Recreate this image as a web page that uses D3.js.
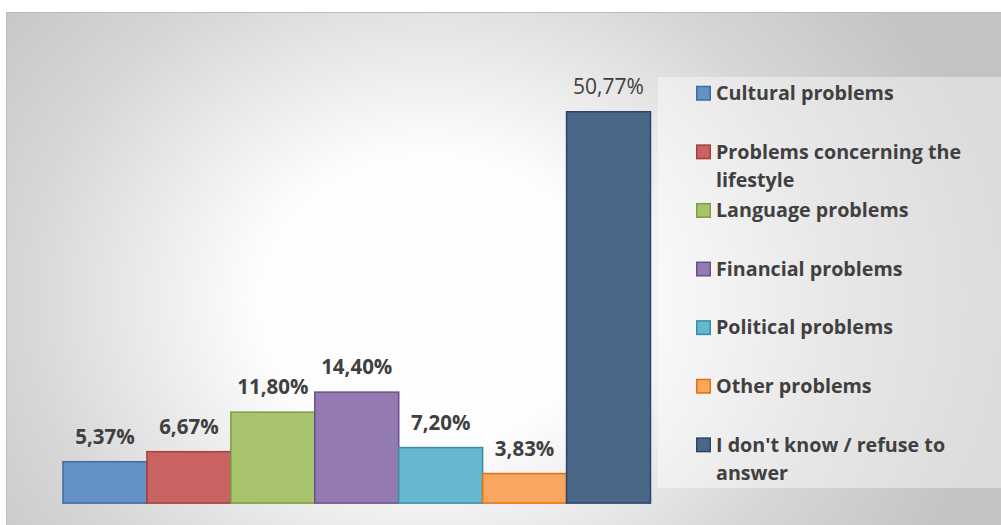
<!DOCTYPE html>
<html>
<head>
<meta charset="utf-8">
<script src="https://cdn.jsdelivr.net/npm/d3@7"></script>
<style>
  html, body { margin: 0; padding: 0; background: #ffffff; }
  svg { display: block; }
</style>
</head>
<body>
<svg id="chart" width="1001" height="525"></svg>
<script>
// Survey answers: share of respondents per problem type (%)
const categories = [
  "Cultural problems",
  "Problems concerning the lifestyle",
  "Language problems",
  "Financial problems",
  "Political problems",
  "Other problems",
  "I don't know / refuse to answer"
];
const values = [5.37, 6.67, 11.80, 14.40, 7.20, 3.83, 50.77];
const valueLabels = ["5,37%", "6,67%", "11,80%", "14,40%", "7,20%", "3,83%", "50,77%"];
const fills   = ["#6491c6", "#c96361", "#a7c36b", "#937bb1", "#65b8cd", "#f9a661", "#4a6689"];
const strokes = ["#3d6ba3", "#a4403d", "#7f9b47", "#6a5089", "#3a8ea4", "#e4700f", "#2c4567"];
const boldLabel = [true, true, true, true, true, true, false];

const svg = d3.select("#chart");
const W = 1001, H = 525;

// Chart area background: soft radial gradient, white in the middle
const defs = svg.append("defs");
const bg = defs.append("radialGradient")
  .attr("id", "bgGrad")
  .attr("gradientUnits", "userSpaceOnUse")
  .attr("cx", 430).attr("cy", 300).attr("r", 580)
  .attr("gradientTransform", "translate(430,300) scale(1,0.85) translate(-430,-300)");
bg.append("stop").attr("offset", 0).attr("stop-color", "#ffffff");
bg.append("stop").attr("offset", 0.3).attr("stop-color", "#fdfdfd");
bg.append("stop").attr("offset", 0.7).attr("stop-color", "#d7d7d7");
bg.append("stop").attr("offset", 1).attr("stop-color", "#c3c3c3");

svg.append("rect")
  .attr("x", 6.5).attr("y", 12.5)
  .attr("width", W).attr("height", H)
  .attr("fill", "url(#bgGrad)")
  .attr("stroke", "#bcbcbc").attr("stroke-width", 1);

// Scales
const x = d3.scaleBand()
  .domain(categories)
  .range([63, 650.5])
  .padding(0);

const y = d3.scaleLinear()
  .domain([0, 60])
  .range([503.1, 40.6]);

const data = categories.map((c, i) => ({
  cat: c, value: values[i], label: valueLabels[i],
  fill: fills[i], stroke: strokes[i], bold: boldLabel[i]
}));

// Legend panel (semi-transparent white)
svg.append("rect")
  .attr("x", 658).attr("y", 77)
  .attr("width", 350).attr("height", 411)
  .attr("fill", "#ffffff").attr("fill-opacity", 0.42);

// Bars
svg.append("g").selectAll("rect")
  .data(data)
  .join("rect")
  .attr("x", d => x(d.cat))
  .attr("y", d => y(d.value))
  .attr("width", x.bandwidth())
  .attr("height", d => y(0) - y(d.value))
  .attr("fill", d => d.fill)
  .attr("stroke", d => d.stroke)
  .attr("stroke-width", 1.5);

// Value labels
svg.append("g").selectAll("text")
  .data(data)
  .join("text")
  .attr("x", d => x(d.cat) + x.bandwidth() / 2)
  .attr("y", d => y(d.value) - 18)
  .attr("text-anchor", "middle")
  .attr("font-family", "'Open Sans', 'DejaVu Sans', sans-serif")
  .attr("font-size", d => d.bold ? 20.5 : 21)
  .attr("font-weight", d => d.bold ? 700 : 400)
  .attr("fill", "#404040")
  .text(d => d.label);

// Legend entries
const legendX = 696, textX = 716, firstBase = 100, step = 58.6, lineH = 28.5, wrapW = 262;
const lg = svg.append("g");
data.forEach((d, i) => {
  const base = firstBase + i * step;
  lg.append("rect")
    .attr("x", legendX + 0.75).attr("y", base - 13.5)
    .attr("width", 13.5).attr("height", 13.5)
    .attr("fill", d.fill)
    .attr("stroke", d.stroke)
    .attr("stroke-width", 1.5);
  const t = lg.append("text")
    .attr("x", textX).attr("y", base)
    .attr("font-family", "'Open Sans', 'DejaVu Sans', sans-serif")
    .attr("font-size", 19.7)
    .attr("font-weight", 700)
    .attr("fill", "#404040");
  // word wrap within the legend width
  const words = d.cat.split(" ");
  let line = [];
  let tspan = t.append("tspan").attr("x", textX).attr("dy", 0);
  words.forEach(w => {
    line.push(w);
    tspan.text(line.join(" "));
    if (tspan.node().getComputedTextLength() > wrapW && line.length > 1) {
      line.pop();
      tspan.text(line.join(" "));
      line = [w];
      tspan = t.append("tspan").attr("x", textX).attr("dy", lineH).text(w);
    }
  });
});
</script>
</body>
</html>
